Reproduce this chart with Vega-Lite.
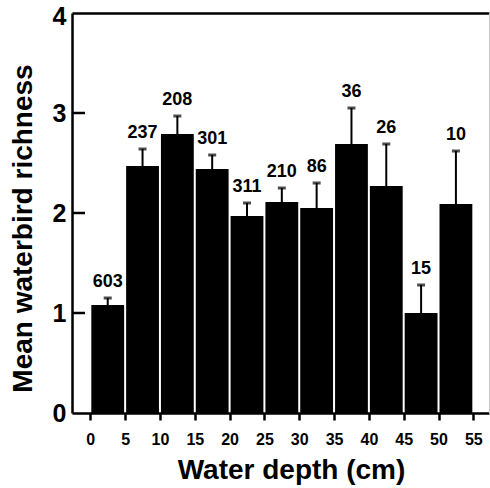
{
  "$schema": "https://vega.github.io/schema/vega-lite/v6.json",
  "width": 417,
  "height": 400,
  "autosize": {"type": "none"},
  "padding": {"left": 72, "top": 13, "right": 1, "bottom": 75},
  "background": "white",
  "config": {
    "view": {"stroke": null},
    "font": "Liberation Sans",
    "axis": {"labelFont": "Liberation Sans", "titleFont": "Liberation Sans", "labelColor": "black", "titleColor": "black", "domainColor": "black", "tickColor": "black", "grid": false, "labelFlush": false, "labelOverlap": false}
  },
  "data": {
    "values": [
      {"start": 0, "end": 5, "mid": 2.5, "mean": 1.08, "upper": 1.15, "n": "603"},
      {"start": 5, "end": 10, "mid": 7.5, "mean": 2.47, "upper": 2.64, "n": "237"},
      {"start": 10, "end": 15, "mid": 12.5, "mean": 2.79, "upper": 2.97, "n": "208"},
      {"start": 15, "end": 20, "mid": 17.5, "mean": 2.44, "upper": 2.58, "n": "301"},
      {"start": 20, "end": 25, "mid": 22.5, "mean": 1.97, "upper": 2.1, "n": "311"},
      {"start": 25, "end": 30, "mid": 27.5, "mean": 2.11, "upper": 2.25, "n": "210"},
      {"start": 30, "end": 35, "mid": 32.5, "mean": 2.05, "upper": 2.3, "n": "86"},
      {"start": 35, "end": 40, "mid": 37.5, "mean": 2.69, "upper": 3.05, "n": "36"},
      {"start": 40, "end": 45, "mid": 42.5, "mean": 2.27, "upper": 2.69, "n": "26"},
      {"start": 45, "end": 50, "mid": 47.5, "mean": 1.0, "upper": 1.28, "n": "15"},
      {"start": 50, "end": 55, "mid": 52.5, "mean": 2.09, "upper": 2.62, "n": "10"}
    ]
  },
  "resolve": {"axis": {"x": "independent", "y": "independent"}},
  "layer": [
    {
      "encoding": {
        "x": {
          "field": "start", "type": "quantitative",
          "scale": {"domain": [-2.63, 57.25], "nice": false, "zero": false, "padding": 0},
          "axis": {
            "values": [0, 5, 10, 15, 20, 25, 30, 35, 40, 45, 50, 55],
            "format": "d",
            "title": "Water depth (cm)",
            "titleFontSize": 28, "titleFontWeight": "bold",
            "titleX": 219, "titleY": 65, "titleBaseline": "alphabetic", "titleAlign": "center",
            "labelFontSize": 16, "labelFontWeight": "bold",
            "labelBaseline": "alphabetic", "labelPadding": 24,
            "tickSize": 7, "tickWidth": 2.5, "domainWidth": 2.5
          }
        },
        "y": {
          "field": "mean", "type": "quantitative",
          "scale": {"domain": [0, 4], "nice": false, "zero": true, "padding": 0},
          "axis": {
            "values": [0, 1, 2, 3, 4],
            "format": "d",
            "title": "Mean waterbird richness",
            "titleFontSize": 28, "titleFontWeight": "bold",
            "titleX": -49, "titleY": 215, "titleBaseline": "middle", "titleAlign": "center", "titleAngle": -90,
            "labelFontSize": 25, "labelFontWeight": "bold",
            "ticks": false, "labelPadding": 6, "domainWidth": 2.5,
            "labelOffset": {"condition": {"test": "datum.value == 4", "value": 3}, "value": 0}
          }
        }
      },
      "layer": [
        {
          "mark": {"type": "bar", "color": "black", "orient": "vertical", "xOffset": 1, "x2Offset": -1},
          "encoding": {
            "x2": {"field": "end"},
            "y2": {"datum": 0}
          }
        },
        {
          "mark": {"type": "rule", "color": "black", "strokeWidth": 2},
          "encoding": {
            "x": {"field": "mid", "type": "quantitative"},
            "y2": {"field": "upper"}
          }
        },
        {
          "mark": {"type": "tick", "orient": "horizontal", "size": 8, "thickness": 3, "color": "black"},
          "encoding": {
            "x": {"field": "mid", "type": "quantitative"},
            "y": {"field": "upper", "type": "quantitative"}
          }
        },
        {
          "mark": {"type": "text", "font": "Liberation Sans", "fontSize": 18, "fontWeight": "bold", "color": "black", "baseline": "alphabetic", "dy": -11},
          "encoding": {
            "x": {"field": "mid", "type": "quantitative"},
            "y": {"field": "upper", "type": "quantitative"},
            "text": {"field": "n", "type": "nominal"}
          }
        }
      ]
    },
    {
      "mark": {"type": "point", "opacity": 0},
      "encoding": {
        "x": {
          "field": "mid", "type": "quantitative",
          "axis": {"orient": "top", "domain": true, "domainColor": "black", "domainWidth": 2.5, "ticks": false, "labels": false, "title": null}
        },
        "y": {
          "field": "mean", "type": "quantitative",
          "axis": {"orient": "right", "domain": true, "domainColor": "#c8c8c8", "domainWidth": 1, "ticks": false, "labels": false, "title": null}
        }
      }
    },
    {
      "data": {"values": [{"tick": 1}, {"tick": 2}, {"tick": 3}]},
      "mark": {"type": "rule", "color": "black", "strokeWidth": 2.5},
      "encoding": {
        "x": {"datum": -2.63, "type": "quantitative", "axis": null},
        "x2": {"datum": -0.76},
        "y": {"field": "tick", "type": "quantitative", "axis": null}
      }
    }
  ]
}
